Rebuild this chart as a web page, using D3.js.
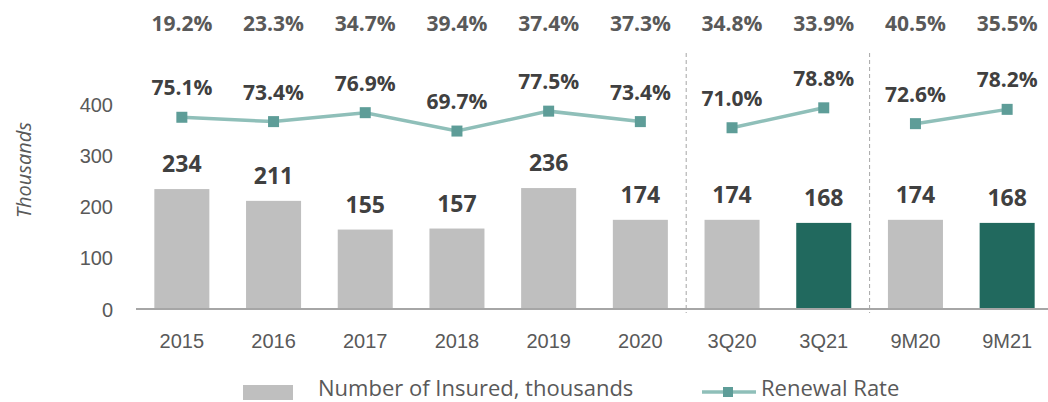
<!DOCTYPE html>
<html>
<head>
<meta charset="utf-8">
<script src="https://cdn.jsdelivr.net/npm/d3@7"></script>
<style>
  html, body { margin: 0; padding: 0; background: #fff; }
  svg { display: block; font-family: "Open Sans", "Noto Sans", sans-serif; }
</style>
</head>
<body>
<svg id="chart" width="1048" height="402"></svg>
<script>
const categories = ["2015","2016","2017","2018","2019","2020","3Q20","3Q21","9M20","9M21"];
const periodGroups = ["annual","annual","annual","annual","annual","annual","quarter","quarter","nine","nine"];
const insured = [234, 211, 155, 157, 236, 174, 174, 168, 174, 168];
const renewalRate = [75.1, 73.4, 76.9, 69.7, 77.5, 73.4, 71.0, 78.8, 72.6, 78.2];
const topShare = [19.2, 23.3, 34.7, 39.4, 37.4, 37.3, 34.8, 33.9, 40.5, 35.5];
const highlighted = ["3Q21", "9M21"];
const yTicks = [0, 100, 200, 300, 400];

const svg = d3.select("#chart");
const x = d3.scaleBand().domain(categories).range([136, 1053]).paddingInner(0.4).paddingOuter(0.2);
const y = d3.scaleLinear().domain([0, 400]).range([309, 104]);
const yR = d3.scaleLinear().domain([0, 100]).range([309, 53.7]);
const cx = c => x(c) + x.bandwidth() / 2;

const data = categories.map((c, i) => ({c, g: periodGroups[i], v: insured[i], r: renewalRate[i], t: topShare[i]}));

// separators between groups
const seps = [];
for (let i = 1; i < data.length; i++) {
  if (data[i].g !== data[i-1].g) seps.push((cx(data[i-1].c) + cx(data[i].c)) / 2);
}
svg.selectAll("line.sep").data(seps).join("line")
  .attr("class", "sep")
  .attr("x1", d => d).attr("x2", d => d)
  .attr("y1", 53).attr("y2", 313)
  .attr("stroke", "#a6a6a6").attr("stroke-width", 1)
  .attr("stroke-dasharray", "4,3");

// bars
svg.selectAll("rect.bar").data(data).join("rect")
  .attr("class", "bar")
  .attr("x", d => x(d.c)).attr("width", x.bandwidth())
  .attr("y", d => y(d.v)).attr("height", d => y(0) - y(d.v))
  .attr("fill", d => highlighted.includes(d.c) ? "#21695e" : "#bfbfbf");

// baseline
svg.append("line").attr("x1", 136).attr("x2", 1048).attr("y1", y(0)).attr("y2", y(0))
  .attr("stroke", "#a6a6a6").attr("stroke-width", 2);

// y axis
const yAxis = d3.axisLeft(y).tickValues(yTicks).tickSize(0).tickPadding(0);
const yg = svg.append("g").attr("transform", "translate(113,0)").call(yAxis);
yg.select(".domain").remove();
yg.selectAll("text").attr("fill", "#595959").style("font-size", "20px").attr("dy", "0.36em");

// x axis
const xAxis = d3.axisBottom(x).tickSize(0).tickPadding(0);
const xg = svg.append("g").attr("transform", "translate(0,348)").call(xAxis);
xg.select(".domain").remove();
xg.selectAll("text").attr("fill", "#595959").style("font-size", "20px").attr("dy", 0);

// y title
svg.append("text").attr("transform", "translate(31,170) rotate(-90)")
  .attr("text-anchor", "middle").attr("fill", "#595959")
  .style("font-size", "20px").style("font-style", "italic").text("Thousands");

// bar labels
svg.selectAll("text.val").data(data).join("text")
  .attr("class", "val")
  .attr("x", d => cx(d.c)).attr("y", d => y(d.v) - 17)
  .attr("text-anchor", "middle").attr("fill", "#404040")
  .style("font-size", "23px").style("font-weight", "bold")
  .text(d => d.v);

// top row
svg.selectAll("text.top").data(data).join("text")
  .attr("class", "top")
  .attr("x", d => cx(d.c)).attr("y", 30.5)
  .attr("text-anchor", "middle").attr("fill", "#595959")
  .style("font-size", "21px").style("font-weight", "bold")
  .text(d => d.t.toFixed(1) + "%");

// renewal lines per group
const line = d3.line().x(d => cx(d.c)).y(d => yR(d.r));
const grouped = d3.groups(data, d => d.g);
svg.selectAll("path.rr").data(grouped).join("path")
  .attr("class", "rr")
  .attr("d", d => line(d[1]))
  .attr("fill", "none").attr("stroke", "#8fbfb9").attr("stroke-width", 3.5);

svg.selectAll("rect.mk").data(data).join("rect")
  .attr("class", "mk")
  .attr("x", d => cx(d.c) - 5.5).attr("y", d => yR(d.r) - 5.5)
  .attr("width", 11).attr("height", 11).attr("fill", "#5e9d98");

svg.selectAll("text.rl").data(data).join("text")
  .attr("class", "rl")
  .attr("x", d => cx(d.c)).attr("y", d => yR(d.r) - 22)
  .attr("text-anchor", "middle").attr("fill", "#404040")
  .style("font-size", "21px").style("font-weight", "bold")
  .text(d => d.r.toFixed(1) + "%");

// legend
const lg = svg.append("g");
lg.append("rect").attr("x", 243).attr("y", 385).attr("width", 50).attr("height", 15).attr("fill", "#bfbfbf");
lg.append("text").attr("x", 318).attr("y", 396).attr("fill", "#595959").style("font-size", "22px")
  .text("Number of Insured, thousands");
lg.append("line").attr("x1", 702).attr("x2", 756).attr("y1", 392).attr("y2", 392)
  .attr("stroke", "#8fbfb9").attr("stroke-width", 3.5);
lg.append("rect").attr("x", 723).attr("y", 387).attr("width", 10).attr("height", 10).attr("fill", "#5e9d98");
lg.append("text").attr("x", 761).attr("y", 396).attr("fill", "#595959").style("font-size", "22px")
  .text("Renewal Rate");
</script>
</body>
</html>
